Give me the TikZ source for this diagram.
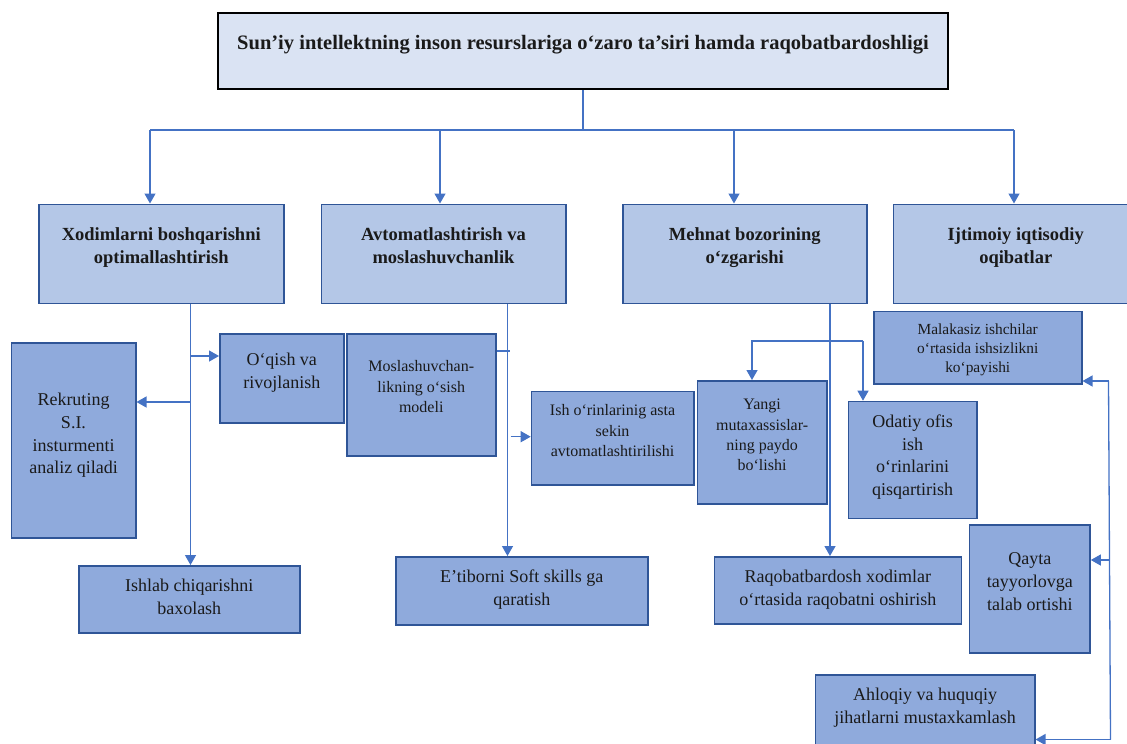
\documentclass[tikz,border=0pt]{standalone}
\usepackage{fontspec}
\setmainfont{Liberation Serif}
\usetikzlibrary{arrows.meta}
\definecolor{linkblue}{HTML}{4472C4}
\definecolor{edgeblue}{HTML}{2F5597}
\definecolor{titlefill}{HTML}{DAE3F3}
\definecolor{mainfill}{HTML}{B4C7E7}
\definecolor{subfill}{HTML}{8FAADC}
\definecolor{inkgray}{HTML}{1A1A1A}
\tikzset{
  conn/.style={draw=linkblue, line width=1.3pt},
  arr/.style={conn, -{Triangle[length=10pt,width=11pt]}},
  boxbase/.style={anchor=north west, align=center, inner xsep=2pt, inner ysep=0pt, text=inkgray},
  titlebox/.style={boxbase, draw=black, line width=2pt, fill=titlefill, font=\bfseries\fontsize{20.5}{24}\selectfont},
  mainbox/.style={boxbase, draw=edgeblue, line width=1.5pt, fill=mainfill, font=\bfseries\fontsize{18.5}{23}\selectfont},
  subbox/.style={boxbase, draw=edgeblue, line width=1.5pt, fill=subfill, font=\fontsize{18}{22.7}\selectfont},
  small/.style={font=\fontsize{16}{20.3}\selectfont},
  % width, height above the last baseline, depth below it
  dims/.style n args={3}{minimum width=#1pt, text height=#2pt, text depth=#3pt},
}
\begin{document}
\begin{tikzpicture}[x=1pt, y=-1pt]
    \useasboundingbox (0,0) rectangle (1127,744);
    \clip (0,0) rectangle (1127,744);

    % title and first level
    \node[titlebox, dims={730}{36.5}{39.5}] (title) at (217,12)
        {Sun’iy intellektning inson resurslariga o‘zaro ta’siri hamda raqobatbardoshligi};
    \node[mainbox, dims={245}{59.5}{39.5}] (opt) at (38,203.5) {Xodimlarni boshqarishni\\optimallashtirish};
    \node[mainbox, dims={244.5}{59.5}{39.5}] (avt) at (320.5,203.5) {Avtomatlashtirish va\\moslashuvchanlik};
    \node[mainbox, dims={244}{59.5}{39.5}] (meh) at (622,203.5) {Mehnat bozorining\\o‘zgarishi};
    \node[mainbox, dims={245}{59.5}{39.5}] (ijt) at (892.5,203.5) {Ijtimoiy iqtisodiy\\oqibatlar};

    % second level
    \node[subbox, dims={124.5}{131.1}{63.9}] (rekr) at (10.5,342) {Rekruting\\S.I.\\insturmenti\\analiz qiladi};
    \node[subbox, dims={124}{54.7}{34.3}] (oqish) at (219,333) {O‘qish va\\rivojlanish};
    \node[subbox, dims={221}{48.4}{18.6}] (ishlab) at (78,565) {Ishlab chiqarishni\\baxolash};
    \node[subbox, small, dims={149}{78.6}{43.4}] (mosl) at (346,333) {Moslashuvchan-\\likning o‘sish\\modeli};
    \node[subbox, small, dims={162.3}{64.9}{28.4}] (ishor) at (530.7,390.7) {Ish o‘rinlarinig asta\\sekin\\avtomatlashtirilishi};
    \node[subbox, dims={252}{48.7}{19.3}] (soft) at (395,556) {E’tiborni Soft skills ga\\qaratish};
    \node[subbox, small, dims={129.3}{89.9}{33.1}] (yangi) at (696.7,380) {Yangi\\mutaxassislar-\\ning paydo\\bo‘lishi};
    \node[subbox, dims={128.3}{94.1}{22.9}] (odat) at (847.7,400.7) {Odatiy ofis\\ish\\o‘rinlarini\\qisqartirish};
    \node[subbox, font=\fontsize{15.4}{19}\selectfont, dims={208}{60.6}{12}] (malak) at (873,310.7)
        {Malakasiz ishchilar\\o‘rtasida ishsizlikni\\ko‘payishi};
    \node[subbox, dims={247}{48.7}{18.6}] (raqob) at (713.7,556) {Raqobatbardosh xodimlar\\o‘rtasida raqobatni oshirish};
    \node[subbox, dims={120.6}{85.1}{42.9}] (qayta) at (968.7,524.3) {Qayta\\tayyorlovga\\talab ortishi};
    \node[subbox, dims={219.3}{48.7}{31.3}] (ahloq) at (814.7,674) {Ahloqiy va huquqiy\\jihatlarni mustaxkamlash};

    % bus from the title
    \coordinate (busl) at (150,130);
    \coordinate (busr) at (1014,130);
    \draw[conn] (title.south) -- (title.south |- busl);
    \draw[conn] (busl) -- (busr);
    \foreach \x/\n in {150/opt, 440/avt, 734/meh, 1014/ijt}
    {
        \coordinate (tap-\n) at (\x,130);
        \draw[arr] (tap-\n) -- (tap-\n |- \n.north);
    }

    % xodimlar branch
    \coordinate (j1) at (190.5,356);
    \coordinate (j2) at (190.5,402);
    \draw[arr] (opt.south -| j1) -- (ishlab.north -| j1);
    \draw[arr] (j1) -- (j1 -| oqish.west);
    \draw[arr] (j2) -- (j2 -| rekr.east);

    % avtomatlashtirish branch
    \coordinate (m1) at (507.5,351);
    \coordinate (m2) at (510.5,436.7);
    \draw[arr] (avt.south -| m1) -- (soft.north -| m1);
    \draw[conn] (m1 -| mosl.east) -- ([xshift=2pt]m1);
    \draw[arr] (m2) -- (m2 -| ishor.west);

    % mehnat branch
    \coordinate (r1) at (830,341);
    \coordinate (y1) at (752,341);
    \coordinate (o1) at (863,341);
    \draw[arr] (meh.south -| r1) -- (raqob.north -| r1);
    \draw[arr] (o1) -- (y1) -- (yangi.north -| y1);
    \draw[arr] (o1) -- (odat.north -| o1);

    % oqibatlar side line
    \coordinate (k1) at (1108.5,381);
    \coordinate (k2) at (1109.5,560);
    \coordinate (k3) at (1110.5,739.5);
    \draw[conn] (k1) -- (k3);
    \draw[arr] (k1) -- (k1 -| malak.east);
    \draw[arr] (k2) -- (k2 -| qayta.east);
    \draw[arr] (k3) -- (k3 -| ahloq.east);
\end{tikzpicture}
\end{document}
